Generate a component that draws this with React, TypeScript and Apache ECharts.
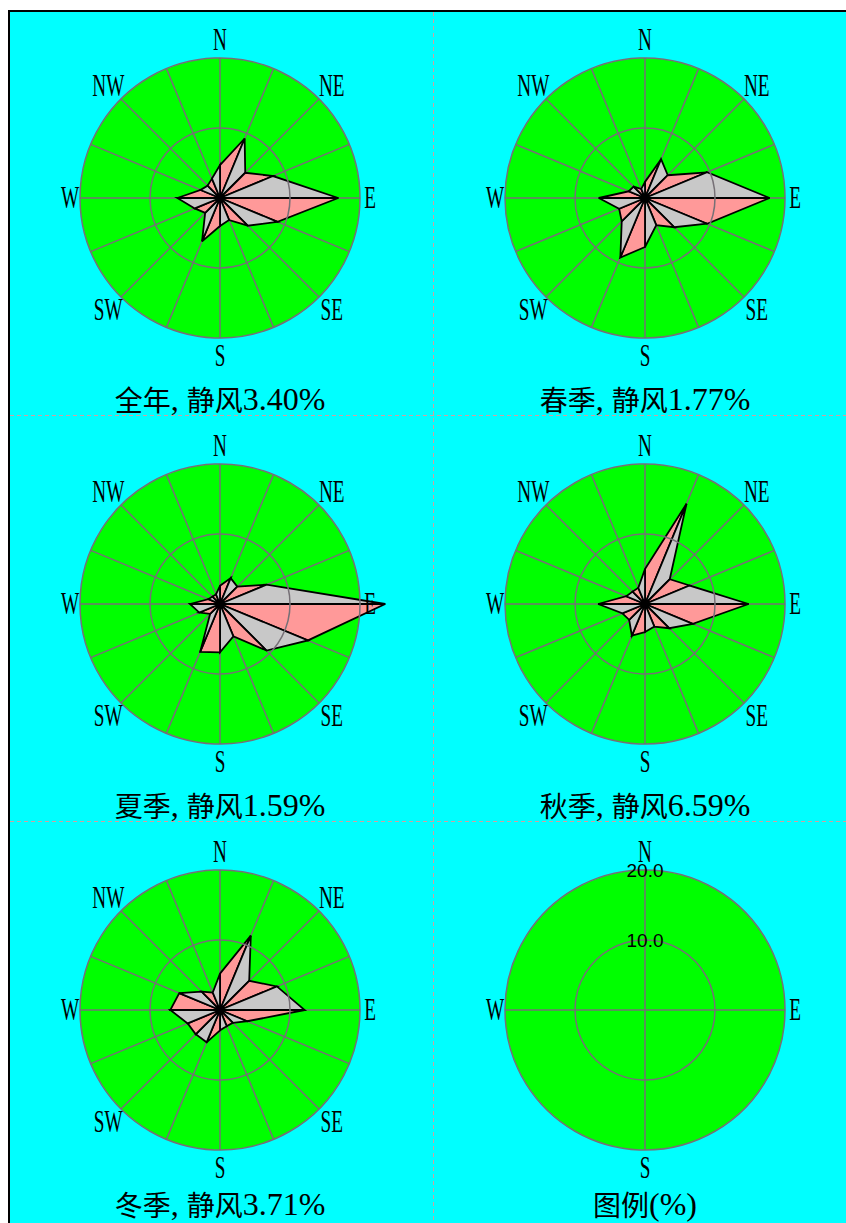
import React, { useEffect, useRef } from 'react';
import * as echarts from 'echarts';

// 16 compass sectors, clockwise from north
const DIRECTIONS = ['N', 'NNE', 'NE', 'ENE', 'E', 'ESE', 'SE', 'SSE', 'S', 'SSW', 'SW', 'WSW', 'W', 'WNW', 'NW', 'NNW'];
const COMPASS_LABELS = ['N', 'NE', 'E', 'SE', 'S', 'SW', 'W', 'NW'];
const LEGEND_LABELS = ['N', 'E', 'S', 'W'];
const RING_TICKS = [10, 20];

// wind direction frequency (%), ordered as DIRECTIONS
const annualFreq = [4.7, 9.2, 5.1, 8.2, 16.9, 8.9, 5.6, 3.4, 4.0, 6.7, 3.0, 3.9, 6.1, 3.0, 2.5, 3.0];
const springFreq = [2.3, 6.0, 4.6, 9.6, 17.8, 9.6, 5.9, 4.2, 7.0, 9.2, 4.7, 4.0, 6.6, 2.5, 2.3, 1.4];
const summerFreq = [2.6, 4.0, 3.5, 7.2, 23.6, 13.6, 9.4, 5.0, 6.9, 7.4, 2.0, 3.2, 4.3, 1.8, 1.5, 1.5];
const autumnFreq = [5.0, 15.5, 5.0, 6.9, 14.8, 7.4, 4.9, 3.5, 4.0, 4.9, 3.2, 3.5, 6.7, 2.9, 2.5, 2.5];
const winterFreq = [5.2, 11.5, 5.9, 8.8, 12.1, 4.2, 2.6, 2.5, 2.9, 5.0, 4.9, 5.0, 7.1, 6.3, 3.7, 2.7];

const periodNames = ['全年', '春季', '夏季', '秋季', '冬季'];
const calmLabel = '静风';
const calmRates = [3.4, 1.77, 1.59, 6.59, 3.71];
const legendName = '图例';
const legendUnit = '(%)';

const seasons = [annualFreq, springFreq, summerFreq, autumnFreq, winterFreq];

// layout (chart-relative pixels)
const CHART_W = 836;
const CHART_H = 1211;
const COL_X = [210, 635];
const ROW_Y = [186, 592, 998];
const RADIUS = 140;
const TITLE_DY = 201;
const DIVIDER_X = 423;
const DIVIDER_Y = [403, 809];

const GREEN = '#00FF00';
const GRID = '#767076';
const PINK = '#FF9999';
const GRAY = '#C8C8C8';
const LABEL_FONT = "'Liberation Serif', 'DejaVu Serif', serif";
const CJK_FONT = "'Noto Sans CJK SC', sans-serif";

function panelCenter(i: number): [number, number] {
  return [COL_X[i % 2], ROW_Y[Math.floor(i / 2)]];
}

function buildOption() {
  const polar: any[] = [];
  const angleAxis: any[] = [];
  const radiusAxis: any[] = [];
  const series: any[] = [];
  const graphics: any[] = [];
  const radiusMax = RING_TICKS[RING_TICKS.length - 1];

  for (let i = 0; i < 6; i++) {
    const isLegend = i === 5;
    const center = panelCenter(i);
    const bg = polar.length;
    const main = bg + 1;

    // background disc
    polar.push({ center, radius: RADIUS });
    angleAxis.push({
      polarIndex: bg,
      type: 'value',
      min: 0,
      max: 360,
      interval: 90,
      startAngle: 90,
      clockwise: true,
      z: 0,
      axisLine: { show: false },
      axisTick: { show: false },
      axisLabel: { show: false },
      splitLine: { show: false },
      splitArea: { show: true, areaStyle: { color: [GREEN], opacity: 1 } },
    });
    radiusAxis.push({
      polarIndex: bg,
      type: 'value',
      min: 0,
      max: radiusMax,
      z: 0,
      axisLine: { show: false },
      axisTick: { show: false },
      axisLabel: { show: false },
      splitLine: { show: false },
    });

    // spokes, rings and the rose itself
    polar.push({ center, radius: RADIUS });
    angleAxis.push({
      polarIndex: main,
      type: 'value',
      min: 0,
      max: 360,
      interval: isLegend ? 90 : 22.5,
      startAngle: 90,
      clockwise: true,
      z: 1,
      axisLine: { show: false },
      axisTick: { show: false },
      axisLabel: { show: false },
      splitLine: { show: true, lineStyle: { color: GRID, width: 1.5 } },
      splitArea: { show: false },
    });
    radiusAxis.push({
      polarIndex: main,
      type: 'value',
      min: 0,
      max: radiusMax,
      interval: RING_TICKS[0],
      z: 5,
      axisLine: { show: false },
      axisTick: { show: false },
      axisLabel: isLegend
        ? {
            show: true,
            margin: 0,
            align: 'center',
            verticalAlign: 'middle',
            color: '#000',
            fontSize: 19,
            fontFamily: "'Liberation Sans', Arial, sans-serif",
            formatter: (v: number) => (RING_TICKS.indexOf(v) >= 0 ? v.toFixed(1) : ''),
          }
        : { show: false },
      splitLine: { show: true, lineStyle: { color: GRID, width: 1.5 } },
    });

    if (!isLegend) {
      const freq = seasons[i];
      const data = freq.map((r, k) => {
        const n = (k + 1) % freq.length;
        return [r, k * 22.5, freq[n], (k + 1) * 22.5];
      });
      series.push({
        type: 'custom',
        coordinateSystem: 'polar',
        polarIndex: main,
        z: 2,
        silent: true,
        data,
        renderItem: (params: any, api: any) => {
          const o = api.coord([0, 0]);
          const p1 = api.coord([api.value(0), api.value(1)]);
          const p2 = api.coord([api.value(2), api.value(3)]);
          return {
            type: 'polygon',
            shape: { points: [o, p1, p2] },
            style: {
              fill: params.dataIndex % 2 === 0 ? PINK : GRAY,
              stroke: '#000',
              lineWidth: 1.8,
              lineJoin: 'miter',
            },
          };
        },
      });
    }

    // compass letters around the rim
    const labels = isLegend ? LEGEND_LABELS : COMPASS_LABELS;
    labels.forEach((lab) => {
      const a = (DIRECTIONS.indexOf(lab) * 22.5 * Math.PI) / 180;
      const s = Math.sin(a);
      const c = Math.cos(a);
      const rr = Math.abs(s) > 0.99 ? 150 : 158;
      graphics.push({
        type: 'text',
        x: center[0] + rr * s,
        y: center[1] - rr * c,
        scaleX: 0.62,
        z: 10,
        style: {
          text: lab,
          fill: '#000',
          fontSize: 31,
          fontFamily: LABEL_FONT,
          align: 'center',
          verticalAlign: 'middle',
          textAlign: 'center',
          textVerticalAlign: 'middle',
        },
      });
    });

    // panel caption: CJK words plus narrow serif figures
    const text = isLegend
      ? `{c|${legendName}}{l|${legendUnit}}`
      : `{c|${periodNames[i]}}{l|, }{c|${calmLabel}}{l|${calmRates[i].toFixed(2)}%}`;
    graphics.push({
      type: 'text',
      x: center[0],
      y: Math.min(center[1] + TITLE_DY, CHART_H - 19),
      z: 10,
      style: {
        text,
        fill: '#000',
        align: 'center',
        verticalAlign: 'middle',
        textAlign: 'center',
        textVerticalAlign: 'middle',
        rich: {
          c: { fontSize: 28, fontFamily: CJK_FONT, fill: '#000', color: '#000' },
          l: { fontSize: 32, fontFamily: LABEL_FONT, fill: '#000', color: '#000' },
        },
      },
    });
  }

  // dashed cell dividers
  const dash = { stroke: '#D0A0A0', lineWidth: 1, lineDash: [4, 3] };
  graphics.push({
    type: 'line',
    z: 1,
    shape: { x1: DIVIDER_X + 0.5, y1: 0, x2: DIVIDER_X + 0.5, y2: CHART_H },
    style: dash,
  });
  DIVIDER_Y.forEach((y) => {
    graphics.push({
      type: 'line',
      z: 1,
      shape: { x1: 0, y1: y + 0.5, x2: CHART_W, y2: y + 0.5 },
      style: dash,
    });
  });

  return {
    animation: false,
    backgroundColor: '#00FFFF',
    polar,
    angleAxis,
    radiusAxis,
    series,
    graphic: { elements: graphics },
  };
}

export default function App() {
  const ref = useRef<HTMLDivElement>(null);
  useEffect(() => {
    if (!ref.current) return;
    const chart = echarts.init(ref.current, null, { renderer: 'svg' });
    chart.setOption(buildOption());
    return () => chart.dispose();
  }, []);
  return (
    <div
      style={{
        position: 'fixed',
        left: 8,
        top: 10,
        borderTop: '2px solid #000',
        borderLeft: '2px solid #000',
        overflow: 'hidden',
      }}
    >
      <div ref={ref} style={{ width: CHART_W, height: CHART_H }} />
    </div>
  );
}
